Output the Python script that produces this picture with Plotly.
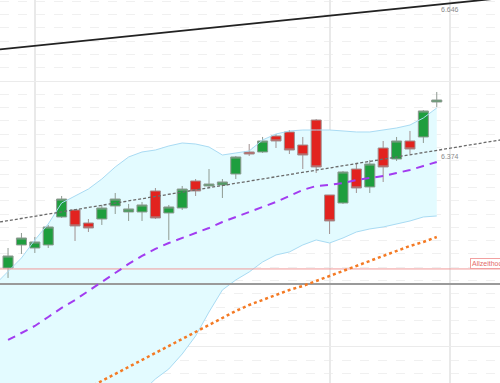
import plotly.graph_objects as go

# ---------------- data ----------------
idx = list(range(33))
opens = [6148.5, 6191.8, 6186.1, 6191.8, 6244.4, 6257.6, 6233.1, 6240.6, 6265.1, 6253.8,
         6253.8, 6293.3, 6251.9, 6261.3, 6312.1, 6302.7, 6304.6, 6325.2, 6366.6, 6366.6,
         6396.7, 6404.2, 6379.7, 6426.7, 6285.8, 6270.7, 6334.6, 6300.8, 6374.1, 6353.4,
         6387.3, 6394.8, 6460.6]
highs = [6186.1, 6214.3, 6206.8, 6229.4, 6283.9, 6259.5, 6240.6, 6267.0, 6289.5, 6268.9,
         6272.6, 6298.9, 6267.0, 6302.7, 6315.8, 6334.6, 6315.8, 6359.1, 6381.6, 6394.8,
         6400.4, 6407.9, 6394.8, 6428.6, 6285.8, 6330.9, 6345.9, 6351.6, 6387.3, 6394.8,
         6406.1, 6445.5, 6479.4]
lows = [6129.8, 6174.9, 6176.7, 6186.1, 6242.5, 6199.3, 6216.2, 6229.4, 6250.0, 6236.9,
        6236.9, 6240.6, 6201.2, 6257.6, 6283.9, 6298.9, 6280.1, 6315.8, 6359.1, 6364.7,
        6374.1, 6362.8, 6334.6, 6327.1, 6212.4, 6268.8, 6289.5, 6289.5, 6310.2, 6349.7,
        6362.8, 6383.5, 6451.2]
closes = [6171.1, 6204.9, 6197.4, 6225.6, 6278.2, 6227.5, 6223.7, 6261.3, 6278.2, 6259.5,
          6267.0, 6242.5, 6263.2, 6297.0, 6293.3, 6306.4, 6310.2, 6357.2, 6362.8, 6387.3,
          6387.3, 6370.3, 6360.9, 6338.4, 6236.9, 6329.0, 6298.9, 6344.0, 6338.4, 6387.3,
          6372.2, 6443.7, 6464.3]

band_idx = list(range(-1, 33))
bb_upper = [6116.6, 6141.0, 6167.3, 6201.2, 6231.2, 6270.7, 6283.9, 6297.0, 6315.8, 6338.4,
            6357.2, 6366.6, 6370.3, 6377.9, 6383.5, 6381.6, 6376.0, 6360.9, 6364.7, 6368.5,
            6389.1, 6400.4, 6406.1, 6407.9, 6407.9, 6407.9, 6406.1, 6404.2, 6404.2, 6407.9,
            6411.7, 6417.3, 6430.5, 6449.3]
bb_lower = [5768.8, 5778.2, 5787.6, 5797.0, 5806.4, 5815.8, 5825.2, 5834.6, 5853.4, 5872.2,
            5891.0, 5915.5, 5939.9, 5958.7, 5986.9, 6020.7, 6065.8, 6107.2, 6126.0, 6141.0,
            6159.8, 6173.0, 6178.6, 6191.8, 6201.2, 6195.5, 6204.9, 6216.2, 6221.9, 6225.6,
            6231.2, 6236.9, 6244.4, 6246.3]

sma20 = [6013.2, 6026.4, 6039.5, 6056.4, 6073.4, 6088.4, 6105.4, 6122.2, 6139.1, 6156.1,
         6171.1, 6184.3, 6195.5, 6204.9, 6214.3, 6223.7, 6235.0, 6244.4, 6253.8, 6263.2,
         6272.6, 6283.9, 6295.2, 6302.7, 6304.6, 6308.3, 6314.0, 6317.7, 6321.5, 6327.1,
         6332.8, 6340.3, 6347.8]

sma_long_idx = list(range(6, 33))
sma_long = [5923.0, 5936.1, 5949.3, 5962.5, 5975.6, 5988.8, 6002.1, 6015.1, 6028.2, 6041.4,
            6054.6, 6067.7, 6079.0, 6088.4, 6097.8, 6107.2, 6114.7, 6124.1, 6133.5, 6142.9,
            6152.3, 6161.7, 6171.1, 6180.5, 6189.9, 6197.4, 6206.8]

trend_idx = [-0.6, 36.72]
trend_upper = [6559.6, 6655.6]      # black resistance trend line
trend_lower = [6235.0, 6389.1]      # dotted support trend line
label_idx = 33
label_upper = 6646
label_lower = 6374
ath_level = 6146.7                   # Allzeithoch
support_level = 6118.5
date_grid = [2, 24, 33]
y_range = [5932.3, 6652.3]
x_range = [-0.6, 36.72]

# ---------------- figure ----------------
fig = go.Figure()

# Bollinger band fill as a shape between grid and traces
pts = list(zip(band_idx, bb_upper)) + list(zip(band_idx[::-1], bb_lower[::-1]))
path = "M " + " L ".join(f"{x},{y}" for x, y in pts) + " Z"
fig.add_shape(type="path", path=path, xref="x", yref="y", layer="between",
              fillcolor="#e3fbff", line=dict(width=0))

# band borders
fig.add_trace(go.Scatter(x=band_idx, y=bb_upper, mode="lines",
                         line=dict(color="#a9dbf3", width=1), hoverinfo="skip"))
fig.add_trace(go.Scatter(x=band_idx, y=bb_lower, mode="lines",
                         line=dict(color="#a9dbf3", width=1), hoverinfo="skip"))

# candles
fig.add_trace(go.Candlestick(
    x=idx, open=opens, high=highs, low=lows, close=closes,
    increasing=dict(fillcolor="#1e9e3e", line=dict(color="#8f9a92", width=1)),
    decreasing=dict(fillcolor="#e2231f", line=dict(color="#a09090", width=1)),
    whiskerwidth=0, hoverinfo="skip"))

# horizontal levels
fig.add_trace(go.Scatter(x=x_range, y=[ath_level, ath_level], mode="lines",
                         line=dict(color="#f09a9a", width=1), hoverinfo="skip"))
fig.add_trace(go.Scatter(x=x_range, y=[support_level, support_level], mode="lines",
                         line=dict(color="#9a9a9a", width=2), hoverinfo="skip"))

# moving average long (orange dotted)
fig.add_trace(go.Scatter(x=sma_long_idx, y=sma_long, mode="lines",
                         line=dict(color="#f47a24", width=2.5, dash="dot"), hoverinfo="skip"))

# SMA 20 (purple dashed)
fig.add_trace(go.Scatter(x=idx, y=sma20, mode="lines",
                         line=dict(color="#a23cf0", width=2, dash="8px,6px"), hoverinfo="skip"))

# trend lines
fig.add_trace(go.Scatter(x=trend_idx, y=trend_lower, mode="lines",
                         line=dict(color="#6a6a6a", width=1.3, dash="3px,2px"), hoverinfo="skip"))
fig.add_trace(go.Scatter(x=trend_idx, y=trend_upper, mode="lines",
                         line=dict(color="#222222", width=1.8), hoverinfo="skip"))

lab_font = dict(family="Liberation Sans, Arial", size=7, color="#8a8a8a")
fig.add_annotation(x=label_idx, y=label_upper, text="6.646", showarrow=False,
                   xanchor="center", yanchor="top", yshift=-1, font=lab_font)
fig.add_annotation(x=label_idx, y=label_lower, text="6.374", showarrow=False,
                   xanchor="center", yanchor="top", yshift=-3, font=lab_font)
fig.add_annotation(xref="paper", x=0.94, y=ath_level, text="Allzeithoch", showarrow=False,
                   xanchor="left", yanchor="bottom", yshift=0,
                   bordercolor="#f2a0a0", borderwidth=1, borderpad=1, bgcolor="white",
                   font=dict(family="Liberation Sans, Arial", size=7, color="#e46a6a"))

fig.update_layout(
    width=500, height=383,
    margin=dict(l=0, r=0, t=0, b=0),
    paper_bgcolor="white", plot_bgcolor="white",
    showlegend=False, boxgap=0.25, boxgroupgap=0,
    xaxis=dict(range=x_range, tickmode="array", tickvals=date_grid, showticklabels=False,
               showgrid=True, gridcolor="#e9e9e9", gridwidth=1.5, zeroline=False,
               showline=False, ticks="", rangeslider=dict(visible=False)),
    yaxis=dict(range=y_range, tickmode="array", tickvals=[6000, 6500], showticklabels=False,
               showgrid=True, gridcolor="#ebebeb", gridwidth=1.2, zeroline=False, ticks="",
               minor=dict(dtick=25, showgrid=True, gridcolor="#f0f0f0", griddash="dash",
                          gridwidth=1, ticks="")),
)

fig.write_html("out.html", config={"displayModeBar": False},
               post_script="document.body.style.margin='0';")
